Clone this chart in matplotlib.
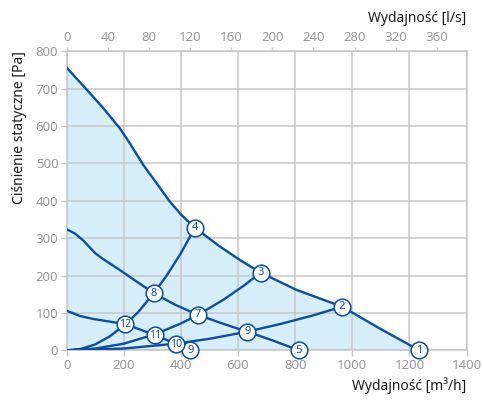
import matplotlib.pyplot as plt

plt.rcParams['font.family'] = ['Noto Sans', 'DejaVu Sans']

# charakterystyki wentylatora (m3/h, Pa)
fan_hi_x = [0, 55, 128, 186, 221, 268, 315, 361, 402, 449, 536, 610, 679, 804, 964, 1095, 1235]
fan_hi_y = [756, 710, 648, 594, 554, 496, 447, 398, 362, 328, 278, 240, 208, 162, 117, 59, 0]
fan_mid_x = [0, 30, 58, 80, 100, 128, 186, 245, 305, 380, 460, 545, 632, 720, 813]
fan_mid_y = [324, 312, 294, 276, 260, 244, 215, 184, 153, 122, 95, 72, 50, 27, 0]
fan_lo_x = [0, 47, 93, 151, 206, 260, 309, 350, 382, 433]
fan_lo_y = [106, 92, 84, 77, 70, 55, 41, 28, 17, 0]

# charakterystyki instalacji
sys_a_x = [0, 50, 100, 150, 206, 250, 305, 350, 400, 449]
sys_a_y = [0, 4, 16, 37, 70, 102, 153, 200, 260, 328]
sys_b_x = [0, 100, 200, 309, 400, 460, 550, 620, 679]
sys_b_y = [0, 5, 18, 43, 72, 95, 136, 173, 208]
sys_c_x = [0, 200, 382, 500, 632, 750, 860, 964]
sys_c_y = [0, 5, 18, 31, 50, 71, 93, 117]

# punkty pracy
pt_x = [1235, 964, 679, 449, 813, 632, 460, 305, 433, 382, 309, 206]
pt_y = [0, 117, 208, 328, 0, 50, 95, 153, 0, 17, 41, 70]
pt_lab = ['1', '2', '3', '4', '5', '9', '7', '8', '9', '10', '11', '12']

blue = '#0d4f9e'
grid_c = '#c8c8c8'
tick_c = '#9a9a9a'

fig = plt.figure(figsize=(4.83, 4.0), dpi=100)
ax = fig.add_axes([0.138, 0.124, 0.828, 0.748])

ax.fill_between(fan_hi_x, fan_hi_y, 0, color='#d5eefa', lw=0, zorder=0.2)

for xs, ys in [(fan_hi_x, fan_hi_y), (fan_mid_x, fan_mid_y), (fan_lo_x, fan_lo_y),
               (sys_a_x, sys_a_y), (sys_b_x, sys_b_y), (sys_c_x, sys_c_y)]:
    ax.plot(xs, ys, color=blue, lw=1.7, solid_capstyle='round',
            solid_joinstyle='round', zorder=3)

ax.plot(pt_x, pt_y, 'o', ms=12, mfc='white', mec=blue, mew=1.1, zorder=4, clip_on=False)
for x, y, t in zip(pt_x, pt_y, pt_lab):
    ax.text(x, y, t, ha='center', va='center', fontsize=8 if len(t) == 1 else 7.5,
            color=blue, fontweight='bold', zorder=5, clip_on=False)

ax.set_xlim(0, 1400)
ax.set_ylim(0, 800)
ax.set_xticks(range(0, 1401, 200))
ax.set_yticks(range(0, 801, 100))
ax.set_axisbelow(True)
ax.grid(color=grid_c, lw=1.1)

for s in ax.spines.values():
    s.set_color(grid_c)
    s.set_linewidth(1.1)
ax.tick_params(color=grid_c, labelcolor=tick_c, length=4, width=1, labelsize=9.5, pad=2)

top = ax.secondary_xaxis('top', functions=(lambda v: v / 3.6, lambda v: v * 3.6))
top.set_xticks(range(0, 361, 40))
top.tick_params(color=grid_c, labelcolor=tick_c, length=3, width=1, labelsize=9.5, pad=2)
top.spines['top'].set_color(grid_c)
top.set_xlabel('Wydajność [l/s]', loc='right', fontsize=10, color='#1a1a1a', labelpad=7)

ax.set_xlabel('Wydajność [m³/h]', loc='right', fontsize=10, color='#1a1a1a', labelpad=4)
ax.set_ylabel('Ciśnienie statyczne [Pa]', loc='top', fontsize=10, color='#1a1a1a', labelpad=6)

fig.savefig('out.png', dpi=100)
